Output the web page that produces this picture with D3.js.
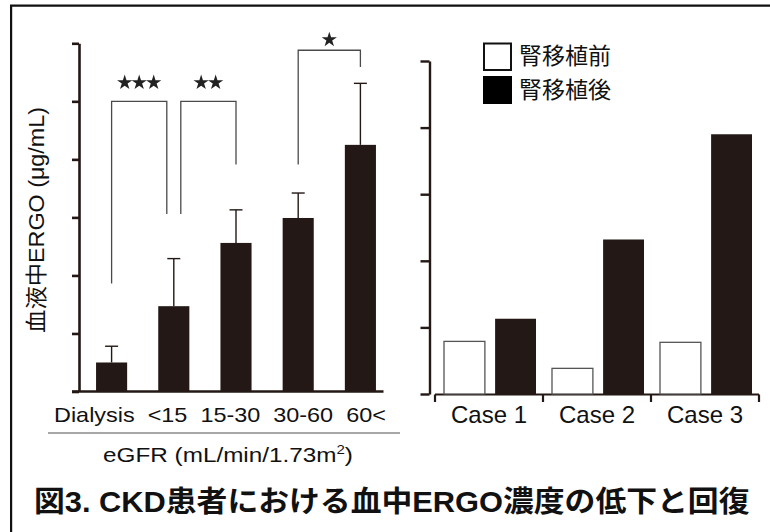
<!DOCTYPE html>
<html><head><meta charset="utf-8">
<script src="https://cdn.jsdelivr.net/npm/d3@7"></script>
<style>body{margin:0;background:#fff} svg{display:block}</style>
</head><body>
<svg id="c" width="770" height="532"></svg>
<script>
// ---- data ----
const gfrCategories = ["Dialysis", "<15", "15-30", "30-60", "60<"];
const gfrMeans = [0.5, 1.47, 2.56, 2.99, 4.25];
const gfrErrors = [0.28, 0.82, 0.57, 0.43, 1.06];
const gfrTicks = [0, 1, 2, 3, 4, 5, 6];
const sigFrom = ["Dialysis", "<15", "30-60"];
const sigTo = ["<15", "15-30", "60<"];
const sigTop = [5.0, 5.0, 5.88];
const sigFromEnd = [1.86, 3.06, 3.91];
const sigToEnd = [3.06, 3.91, 5.59];
const sigLabels = ["***", "**", "*"];
const sigLabelAt = [5.34, 5.34, 6.08];
const cases = ["Case 1", "Case 2", "Case 3"];
const seriesKeys = ["before", "after"];
const seriesNames = ["腎移植前", "腎移植後"];
const beforeTx = [0.79, 0.385, 0.776];
const afterTx = [1.13, 2.32, 3.9];
const caseTicks = [0, 1, 2, 3, 4, 5];
const yLabel = "血液中ERGO (μg/mL)";
const xLabel = "eGFR (mL/min/1.73m";
const xLabelSup = "2";
const title = "図3. CKD患者における血中ERGO濃度の低下と回復";

// ---- styles ----
const ink = "#231815";
const latin = "'Liberation Sans', Arial, sans-serif";
const mixed = "'Liberation Sans', 'Noto Sans CJK JP', sans-serif";
const svg = d3.select("#c");

function fitX(sel, x, y, width, anchor, rotate) {
  sel.attr("text-anchor", anchor || "middle");
  const w = sel.node().getComputedTextLength();
  const k = width / w;
  if (rotate) sel.attr("transform", `translate(${x},${y}) rotate(-90) scale(${k},1)`);
  else sel.attr("transform", `translate(${x},${y}) scale(${k},1)`);
}

// frame
svg.append("path").attr("d", "M772,5.7H11.1V534")
  .attr("fill", "none").attr("stroke", "#111").attr("stroke-width", 2.2);

// ---- left chart ----
const yL = d3.scaleLinear().domain([0, 6]).range([391.5, 43.3]);
const xL = d3.scaleBand().domain(gfrCategories).range([80.5, 391.5])
  .paddingInner(0.5).paddingOuter(0.25);
const cx = c => xL(c) + xL.bandwidth() / 2;
const gL = svg.append("g");

gL.append("g").attr("transform", "translate(79,0)")
  .call(d3.axisLeft(yL).tickValues(gfrTicks).tickSize(7).tickSizeOuter(0).tickFormat(""))
  .call(g => g.selectAll("path,line").attr("stroke", ink).attr("stroke-width", 2.6));
gL.append("line").attr("x1", 72).attr("x2", 383.5)
  .attr("y1", yL(0)).attr("y2", yL(0)).attr("stroke", ink).attr("stroke-width", 2.6);

gL.selectAll("rect.bar").data(gfrCategories).join("rect").attr("class", "bar")
  .attr("x", c => xL(c)).attr("width", xL.bandwidth())
  .attr("y", (c, i) => yL(gfrMeans[i]))
  .attr("height", (c, i) => yL(0) - yL(gfrMeans[i]))
  .attr("fill", ink);

const eb = gL.selectAll("g.eb").data(gfrCategories).join("g").attr("class", "eb")
  .attr("stroke", ink).attr("stroke-width", 1.4);
eb.append("line").attr("x1", c => cx(c)).attr("x2", c => cx(c))
  .attr("y1", (c, i) => yL(gfrMeans[i])).attr("y2", (c, i) => yL(gfrMeans[i] + gfrErrors[i]));
eb.append("line").attr("x1", c => cx(c) - 6.5).attr("x2", c => cx(c) + 6.5)
  .attr("y1", (c, i) => yL(gfrMeans[i] + gfrErrors[i])).attr("y2", (c, i) => yL(gfrMeans[i] + gfrErrors[i]));

// significance brackets
const shared = gfrCategories.filter(c => sigFrom.includes(c) && sigTo.includes(c));
const star = d3.symbol().type(d3.symbolStar).size(72)();
sigLabels.forEach((lab, i) => {
  const x1 = cx(sigFrom[i]) + (shared.includes(sigFrom[i]) ? 7 : 0);
  const x2 = cx(sigTo[i]) - (shared.includes(sigTo[i]) ? 7 : 0);
  gL.append("path")
    .attr("d", `M${x1},${yL(sigFromEnd[i])}V${yL(sigTop[i])}H${x2}V${yL(sigToEnd[i])}`)
    .attr("fill", "none").attr("stroke", "#4a4a4a").attr("stroke-width", 1.3);
  const mid = (x1 + x2) / 2, n = lab.length;
  for (let j = 0; j < n; j++) {
    gL.append("path").attr("d", star)
      .attr("transform", `translate(${mid + (j - (n - 1) / 2) * 14.5},${yL(sigLabelAt[i]) + 1})`)
      .attr("fill", "#222");
  }
});

// x labels left
const row = gL.append("text").attr("font-family", latin).attr("font-size", 21).attr("fill", "#111")
  .text(gfrCategories.join("\u00A0\u00A0"));
fitX(row, 54, 422, 332, "start");
gL.append("line").attr("x1", 48).attr("x2", 400).attr("y1", 433).attr("y2", 433)
  .attr("stroke", "#8a8a8a").attr("stroke-width", 1.6);
const xl = gL.append("text").attr("font-family", latin).attr("font-size", 21).attr("fill", "#111");
xl.append("tspan").text(xLabel);
xl.append("tspan").attr("font-size", 13).attr("dy", -8).text(xLabelSup);
xl.append("tspan").attr("dy", 8).text(")");
fitX(xl, 228, 462, 250, "middle");

// y label
const yl = svg.append("text").attr("font-family", mixed).attr("font-size", 22).attr("fill", "#111").text(yLabel);
fitX(yl, 43.5, 220, 226, "middle", true);

// ---- right chart ----
const yR = d3.scaleLinear().domain([0, 5]).range([394, 61]);
const xR = d3.scaleBand().domain(cases).range([435, 759]);
const xIn = d3.scaleBand().domain(seriesKeys).range([9, 101]).paddingInner(0.2);
const gR = svg.append("g");

gR.append("g").attr("transform", "translate(429.5,0)")
  .call(d3.axisLeft(yR).tickValues(caseTicks).tickSize(9).tickSizeOuter(0).tickFormat(""))
  .call(g => g.selectAll("path,line").attr("stroke", ink).attr("stroke-width", 2.4));
gR.append("line").attr("x1", 435).attr("x2", 759).attr("y1", 394.5).attr("y2", 394.5)
  .attr("stroke", ink).attr("stroke-width", 2.2);
gR.selectAll("line.ct").data(cases.map(c => xR(c)).concat([xR.range()[1]])).join("line")
  .attr("class", "ct").attr("x1", d => d).attr("x2", d => d).attr("y1", 394.5).attr("y2", 402)
  .attr("stroke", ink).attr("stroke-width", 2.2);

const vals = {before: beforeTx, after: afterTx};
seriesKeys.forEach(k => {
  gR.selectAll("rect." + k).data(cases).join("rect").attr("class", k)
    .attr("x", c => xR(c) + xIn(k)).attr("width", xIn.bandwidth())
    .attr("y", (c, i) => yR(vals[k][i]))
    .attr("height", (c, i) => yR(0) - yR(vals[k][i]))
    .attr("fill", k === "before" ? "#fff" : ink)
    .attr("stroke", k === "before" ? "#555" : "none")
    .attr("stroke-width", 1.3);
});

gR.selectAll("text.case").data(cases).join("text").attr("class", "case")
  .attr("x", c => xR(c) + xR.bandwidth() / 2).attr("y", 423.3)
  .attr("text-anchor", "middle").attr("font-family", latin).attr("font-size", 24).attr("fill", "#111")
  .text(c => c);

// legend
gR.append("rect").attr("x", 484).attr("y", 43.5).attr("width", 27).attr("height", 26.5)
  .attr("fill", "#fff").attr("stroke", "#111").attr("stroke-width", 2);
gR.append("rect").attr("x", 483).attr("y", 76).attr("width", 29).attr("height", 28).attr("fill", "#000");
gR.selectAll("text.leg").data(seriesNames).join("text").attr("class", "leg")
  .attr("x", 519).attr("y", (d, i) => 64 + i * 33.5)
  .attr("font-family", "'Noto Sans CJK JP', sans-serif").attr("font-size", 23).attr("fill", "#111")
  .text(d => d);

// title
const tt = svg.append("text").attr("font-family", mixed).attr("font-size", 29)
  .attr("font-weight", "bold").attr("fill", "#111").text(title);
fitX(tt, 34, 512, 716, "start");
</script>
</body></html>
